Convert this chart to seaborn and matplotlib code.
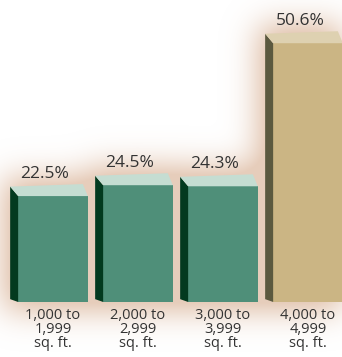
import numpy as np
import pandas as pd
import matplotlib
matplotlib.use("Agg")
import matplotlib.pyplot as plt
from matplotlib.patches import Polygon
import seaborn as sns

# Share of homes by size band
categories = ["1,000 to\n1,999\nsq. ft.", "2,000 to\n2,999\nsq. ft.",
              "3,000 to\n3,999\nsq. ft.", "4,000 to\n4,999\nsq. ft."]
values = [22.5, 24.5, 24.3, 50.6]
value_labels = ["22.5%", "24.5%", "24.3%", "50.6%"]

front_colors = ["#4f8f79", "#4f8f79", "#4f8f79", "#cbb584"]
top_colors = ["#c5ddd2", "#c5ddd2", "#c5ddd2", "#ded1b1"]
side_colors = ["#033a1f", "#033a1f", "#033a1f", "#5b593f"]

W, H = 342, 357
sns.set_theme(style="white")
plt.rcParams["font.family"] = ["Open Sans", "DejaVu Sans"]

fig = plt.figure(figsize=(W / 100, H / 100), dpi=100)
fig.patch.set_facecolor("white")

# scale: pixels per data unit
PX_X = 85.0
PX_Y = 5.44
AX_BOTTOM_PX = 302  # from top of image
x0_px = 53.0

ylo = 3.03
yhi = ylo + AX_BOTTOM_PX / PX_Y
xlo = -x0_px / PX_X
xhi = (W - x0_px) / PX_X

bg = fig.add_axes([0, 0, 1, 1], zorder=0)
ax = fig.add_axes([0, (H - AX_BOTTOM_PX) / H, 1, AX_BOTTOM_PX / H], zorder=1)
ax.set_facecolor("none")

df = pd.DataFrame({"band": categories, "share": values})
sns.barplot(data=df, x="band", y="share", hue="band", palette=front_colors,
            saturation=1, width=0.82, legend=False, ax=ax, zorder=3,
            edgecolor="none", linewidth=0)
ax.set_xlim(xlo, xhi)
ax.set_ylim(ylo, yhi)

dxl, dyl = -8 / PX_X, 9.5 / PX_Y   # back-left offset
dxr, dyr = -5 / PX_X, 12 / PX_Y    # back-right offset

mask = np.zeros((H, W))
for i, p in enumerate(ax.patches):
    fl = p.get_x()
    fr = fl + p.get_width()
    top = p.get_height()
    side = Polygon([(fl, ylo), (fl, top), (fl + dxl, top + dyl), (fl + dxl, ylo + dyl * 0.3)],
                   closed=True, facecolor=side_colors[i], edgecolor="none",
                   zorder=3, clip_on=False)
    ax.add_patch(side)
    lid = Polygon([(fl, top), (fr, top), (fr + dxr, top + dyr), (fl + dxl, top + dyl)],
                  closed=True, facecolor=top_colors[i], edgecolor="none", zorder=4)
    ax.add_patch(lid)
    cx = fl + p.get_width() / 2
    ax.text(cx - 8 / PX_X, top + 18 / PX_Y, value_labels[i], ha="center",
            va="baseline", fontsize=12.5, color="#333333", zorder=5)

    # footprint of the bar in image pixels (row 0 = top) for the soft shadow
    c0 = int((fl + dxl - xlo) * PX_X) - 6
    c1 = int((fr - xlo) * PX_X) + 4
    r0 = int(AX_BOTTOM_PX - (top + dyr - ylo) * PX_Y) - 6
    r1 = AX_BOTTOM_PX + 8
    mask[max(r0, 0):r1, max(c0, 0):min(c1, W)] = 1.0

ax.set_xlabel("")
ax.set_ylabel("")
ax.set_yticks([])
ax.tick_params(axis="x", length=0, pad=4)
for lab in ax.get_xticklabels():
    lab.set_fontsize(10.5)
    lab.set_color("#333333")
    lab.set_linespacing(0.95)
sns.despine(ax=ax, left=True, bottom=True)

# soft warm halo behind the bars
def blur(a, sigma):
    r = int(3 * sigma)
    k = np.exp(-0.5 * (np.arange(-r, r + 1) / sigma) ** 2)
    k /= k.sum()
    pad = np.pad(a, r, mode="constant")
    pad = np.apply_along_axis(lambda v: np.convolve(v, k, mode="same"), 0, pad)
    pad = np.apply_along_axis(lambda v: np.convolve(v, k, mode="same"), 1, pad)
    return pad[r:-r, r:-r]

halo = blur(mask, 16)
halo = np.clip(halo * 1.5, 0, 1)
rgba = np.zeros((H, W, 4))
rgba[..., 0] = 228 / 255
rgba[..., 1] = 200 / 255
rgba[..., 2] = 180 / 255
rgba[..., 3] = halo * 0.9
bg.imshow(rgba, extent=[0, W, H, 0], aspect="auto", interpolation="bilinear")
bg.set_xlim(0, W)
bg.set_ylim(H, 0)
bg.axis("off")

fig.savefig("out.png", dpi=100, facecolor="white")
